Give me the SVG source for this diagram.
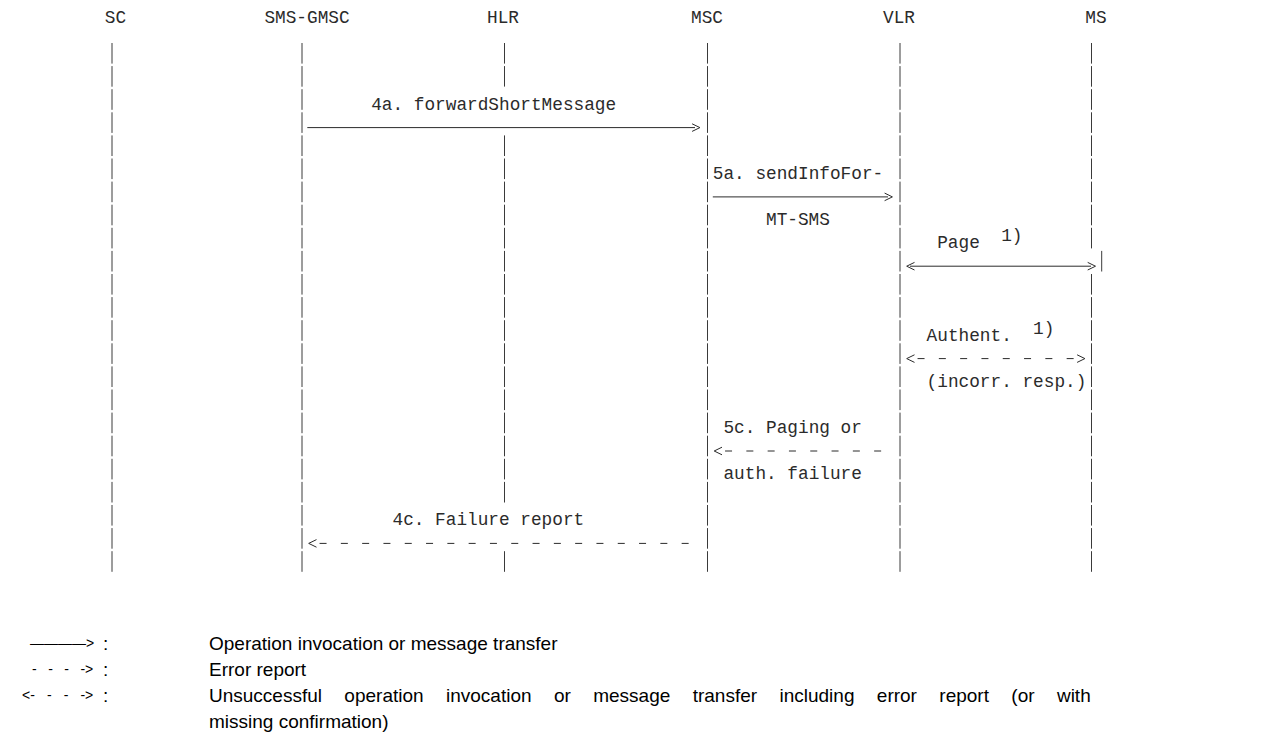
<svg xmlns="http://www.w3.org/2000/svg" width="1275" height="749" viewBox="0 0 1275 749">
<style>
.t{font-family:"Liberation Mono","Courier New",monospace;font-size:17.75px;fill:#2b2b2b}
.h{text-anchor:middle}
.life{stroke:#3a3a3a;stroke-width:1;stroke-dasharray:20.6 2.5;fill:none}
.sol{stroke:#2b2b2b;stroke-width:1;fill:none}
.dsh{stroke:#2b2b2b;stroke-width:1;fill:none;stroke-dasharray:7 14.3}
.hd{stroke:#2b2b2b;stroke-width:1;fill:none}
.lg{font-family:"Liberation Sans",Arial,sans-serif;font-size:19px;fill:#000}
.ls{font-family:"Liberation Sans",Arial,sans-serif;font-size:14px;fill:#000}
</style>
<defs>
<path id="ar" d="M-7.8,-3.8 L0,0 L-7.8,3.8"/>
<path id="al" d="M7.8,-3.8 L0,0 L7.8,3.8"/>
</defs>
<rect width="1275" height="749" fill="#fff"/>
<g id="n-sc"><text class="t h" x="115.5" y="23">SC</text><line class="life" x1="112" y1="43" x2="112" y2="571.8"/></g>
<g id="n-gmsc"><text class="t h" x="307" y="23">SMS-GMSC</text><line class="life" x1="302" y1="43" x2="302" y2="571.8"/></g>
<g id="n-hlr"><text class="t h" x="503" y="23">HLR</text><line class="life" x1="504.5" y1="43" x2="504.5" y2="86.6"/><line class="life" x1="504.5" y1="135.4" x2="504.5" y2="502.5"/><line class="life" x1="504.5" y1="551.2" x2="504.5" y2="571.8"/></g>
<g id="n-msc"><text class="t h" x="707" y="23">MSC</text><line class="life" x1="707.5" y1="43" x2="707.5" y2="571.8"/></g>
<g id="n-vlr"><text class="t h" x="899" y="23">VLR</text><line class="life" x1="900" y1="43" x2="900" y2="571.8"/></g>
<g id="n-ms"><text class="t h" x="1096" y="23">MS</text><line class="life" x1="1091.5" y1="43" x2="1091.5" y2="248.4"/><line class="life" x1="1101.7" y1="250.9" x2="1101.7" y2="271.5"/><line class="life" x1="1091.5" y1="274" x2="1091.5" y2="571.8"/></g>
<g id="connectors">
<g id="c-4a"><line class="sol" x1="307.3" y1="127.6" x2="695" y2="127.6"/><use href="#ar" class="hd" x="699.9" y="127.6"/><text class="t" x="371.2" y="109.5">4a. forwardShortMessage</text></g>
<g id="c-5a"><line class="sol" x1="712.8" y1="196.9" x2="888" y2="196.9"/><use href="#ar" class="hd" x="892.4" y="196.9"/><text class="t" x="712.8" y="178.8">5a. sendInfoFor-</text><text class="t" x="766" y="225">MT-SMS</text></g>
<g id="c-page"><line class="sol" x1="910" y1="266.2" x2="1091" y2="266.2"/><use href="#al" class="hd" x="906.7" y="266.2"/><use href="#ar" class="hd" x="1095.5" y="266.2"/><text class="t" x="937.2" y="248.1">Page</text><text class="t" x="1001.2" y="241">1)</text></g>
<g id="c-auth"><line class="dsh" x1="917.55" y1="358.6" x2="1073.65" y2="358.6"/><use href="#al" class="hd" x="906.7" y="358.6"/><use href="#ar" class="hd" x="1084.9" y="358.6"/><text class="t" x="926.6" y="340.5">Authent.</text><text class="t" x="1033.1" y="333.5">1)</text><text class="t" x="926.6" y="386.7">(incorr. resp.)</text></g>
<g id="c-5c"><line class="dsh" x1="725.05" y1="451" x2="881.15" y2="451"/><use href="#al" class="hd" x="714.2" y="451"/><text class="t" x="723.45" y="432.9">5c. Paging or</text><text class="t" x="723.45" y="479.1">auth. failure</text></g>
<g id="c-4c"><line class="dsh" x1="319.55" y1="543.4" x2="688.65" y2="543.4"/><use href="#al" class="hd" x="308.7" y="543.4"/><text class="t" x="392.5" y="525.3">4c. Failure report</text></g>
</g>
<g id="legend">
<text class="ls" x="30" y="648">————&gt;</text><text class="lg" x="103" y="650">:</text><text class="lg" x="209" y="650">Operation invocation or message transfer</text>
<text class="ls" x="32" y="674" word-spacing="7.6">- - - -&gt;</text><text class="lg" x="103" y="676">:</text><text class="lg" x="209" y="676">Error report</text>
<text class="ls" x="22" y="700" word-spacing="8.2">&lt;- - - -&gt;</text><text class="lg" x="103" y="702">:</text><text class="lg" x="209" y="702" word-spacing="17.1">Unsuccessful operation invocation or message transfer including error report (or with</text>
<text class="lg" x="209" y="728">missing confirmation)</text>
</g>
</svg>
